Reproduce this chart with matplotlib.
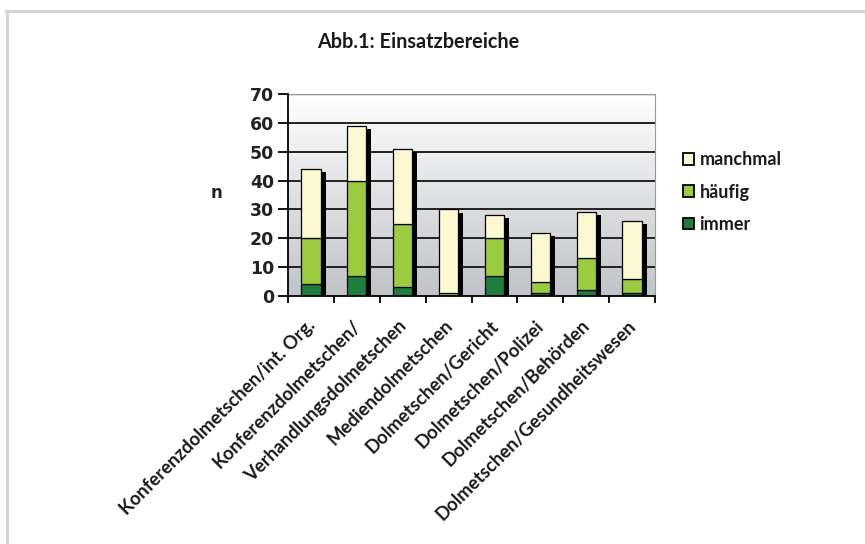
import matplotlib
matplotlib.use("Agg")
import matplotlib.pyplot as plt
import matplotlib.transforms as mtransforms
from matplotlib.patches import Patch
import numpy as np

categories = ["Konferenzdolmetschen/int. Org.", "Konferenzdolmetschen/",
              "Verhandlungsdolmetschen", "Mediendolmetschen",
              "Dolmetschen/Gericht", "Dolmetschen/Polizei",
              "Dolmetschen/Behörden", "Dolmetschen/Gesundheitswesen"]
immer = [4, 7, 3, 0, 7, 1, 2, 1]
haeufig = [16, 33, 22, 1, 13, 4, 11, 5]
manchmal = [24, 19, 26, 29, 8, 17, 16, 20]
series_names = ["immer", "häufig", "manchmal"]
yticks = [0, 10, 20, 30, 40, 50, 60, 70]
title = "Abb.1: Einsatzbereiche"
ylabel = "n"

c_immer = "#1f7e3e"
c_haeufig = "#9bcb3f"
c_manchmal = "#fcf8d2"

W, H = 865, 544
fig = plt.figure(figsize=(W / 100, H / 100), dpi=100)
fig.patch.set_facecolor("white")

# outer frame lines (top and left)
fig.add_artist(plt.Line2D([6 / W, 1], [1 - 11 / H, 1 - 11 / H], color="#d4d4d4", lw=2.2))
fig.add_artist(plt.Line2D([6.5 / W, 6.5 / W], [0, 1 - 11 / H], color="#d4d4d4", lw=2.2))

ax_l, ax_r, ax_t, ax_b = 288, 655, 94, 296
ax = fig.add_axes([ax_l / W, 1 - ax_b / H, (ax_r - ax_l) / W, (ax_b - ax_t) / H])

n = len(categories)
x = np.arange(n)
ax.set_xlim(-0.5, n - 0.5)
ax.set_ylim(0, 70)

# gradient background
grad = np.linspace(0, 1, 256).reshape(-1, 1)
top = np.array([1.0, 1.0, 1.0])
bot = np.array([0.755, 0.765, 0.78])
img = top * (1 - grad)[..., None] + bot * grad[..., None]
img = img[::-1]
ax.imshow(img, extent=[-0.5, n - 0.5, 0, 70], aspect="auto",
          origin="lower", zorder=0)

for yv in yticks[1:-1]:
    ax.axhline(yv, color="#222222", lw=1.4, zorder=1)
ax.axhline(70, color="#666666", lw=1.0, zorder=1)

immer_a = np.array(immer, float)
haeufig_a = np.array(haeufig, float)
manchmal_a = np.array(manchmal, float)
totals = immer_a + haeufig_a + manchmal_a

bw = 0.42
# shadow
ax.bar(x + 0.11, totals - 1.1, width=bw, color="black", zorder=2, linewidth=0)
ax.bar(x, immer_a, width=bw, color=c_immer, edgecolor="black", lw=0.9, zorder=3)
ax.bar(x, haeufig_a, bottom=immer_a, width=bw, color=c_haeufig,
       edgecolor="black", lw=0.9, zorder=3)
ax.bar(x, manchmal_a, bottom=immer_a + haeufig_a, width=bw, color=c_manchmal,
       edgecolor="black", lw=0.9, zorder=3)

for s in ["top", "right"]:
    ax.spines[s].set_color("#9a9a9a")
    ax.spines[s].set_linewidth(0.8)
for s in ["left", "bottom"]:
    ax.spines[s].set_color("black")
    ax.spines[s].set_linewidth(1.3)
    ax.spines[s].set_zorder(5)

ax.set_yticks(yticks)
ax.set_yticklabels([str(v) for v in yticks], fontfamily="DejaVu Sans",
                   fontweight="bold", fontsize=12.5, color="#222222")
ax.tick_params(axis="y", length=7, width=1.3, direction="out", pad=3)
ax.set_xticks(np.arange(n + 1) - 0.5)
ax.set_xticklabels([])
ax.tick_params(axis="x", length=5, width=1.3, direction="out")

# rotated category labels, anchored under each category centre
lab_tr = mtransforms.blended_transform_factory(ax.transData, ax.transAxes) + \
    mtransforms.ScaledTranslation(1 / 100, -27 / 100, fig.dpi_scale_trans)
for i, lab in enumerate(categories):
    ax.text(x[i], 0, lab, transform=lab_tr, rotation=45, ha="right",
            va="center", rotation_mode="anchor", fontfamily="Lato",
            fontweight="bold", fontsize=13.3, color="#1a1a1a", clip_on=False)

fig.text(418 / W, 1 - 42 / H, title, ha="center", va="center",
         fontfamily="Lato", fontweight="bold", fontsize=14.3, color="#1a1a1a")
fig.text(217 / W, 1 - 193 / H, ylabel, ha="center", va="center",
         fontfamily="DejaVu Sans", fontweight="bold", fontsize=12,
         color="#222222")

handles = [Patch(facecolor=c_manchmal, edgecolor="black", lw=1.3),
           Patch(facecolor=c_haeufig, edgecolor="black", lw=1.3),
           Patch(facecolor=c_immer, edgecolor="black", lw=1.3)]
leg = fig.legend(handles, [series_names[2], series_names[1], series_names[0]],
                 loc="upper left", bbox_to_anchor=(667 / W, 1 - 135 / H),
                 frameon=False, handlelength=0.6, handleheight=0.6,
                 handletextpad=0.3, labelspacing=0.85,
                 prop={"family": "Lato", "weight": "bold", "size": 13})
for t in leg.get_texts():
    t.set_color("#1a1a1a")

fig.savefig("out.png", dpi=100)
